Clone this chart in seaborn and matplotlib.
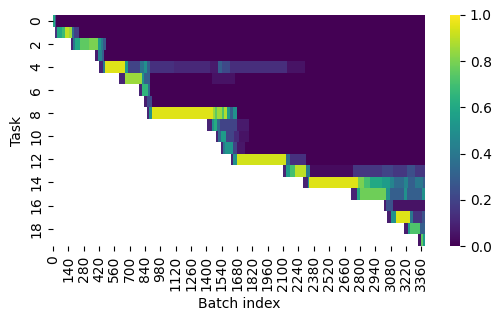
import matplotlib
matplotlib.use("Agg")
import matplotlib.pyplot as plt
import seaborn as sns
import numpy as np
import pandas as pd

n_batches = 3395
tasks = list(range(20))

# first batch at which each task appears (white / NaN before it)
task_start = [0, 18, 164, 383, 420, 602, 785, 830, 854, 1404,
              1487, 1532, 1623, 2098, 2283, 2724, 3018, 3049, 3201, 3334]

# (from batch, to batch, value); everything else after the start is 0
segments = [
    [(0, 20, 0.6), (20, 30, 0.25)],
    [(18, 34, 0.15), (34, 80, 0.6), (80, 110, 0.68), (110, 150, 0.9), (150, 176, 0.85),
     (176, 195, 0.35), (195, 240, 0.18)],
    [(164, 180, 0.1), (180, 200, 0.4), (200, 245, 0.6), (245, 330, 0.75), (330, 410, 0.8),
     (410, 440, 0.55), (440, 460, 0.42), (460, 483, 0.28)],
    [(383, 413, 0.08), (413, 445, 0.45), (445, 470, 0.3)],
    [(420, 456, 0.1), (456, 474, 0.4), (474, 657, 0.95), (657, 685, 0.55), (685, 794, 0.2),
     (794, 830, 0.38), (830, 860, 0.5), (860, 885, 0.3), (885, 1100, 0.14), (1100, 1433, 0.11),
     (1433, 1506, 0.07), (1506, 1540, 0.3), (1540, 1615, 0.22), (1615, 2133, 0.13),
     (2133, 2300, 0.05)],
    [(602, 657, 0.1), (657, 809, 0.85), (809, 830, 0.5), (830, 885, 0.3), (1450, 1660, 0.05)],
    [(785, 809, 0.1), (809, 870, 0.65), (870, 885, 0.35)],
    [(830, 857, 0.08), (857, 900, 0.22)],
    [(854, 880, 0.1), (880, 900, 0.5), (900, 1460, 0.95), (1460, 1480, 0.85), (1480, 1500, 0.75),
     (1500, 1540, 0.85), (1540, 1560, 0.72), (1560, 1590, 0.88), (1590, 1615, 0.55),
     (1615, 1646, 0.3), (1646, 1676, 0.5)],
    [(1404, 1447, 0.1), (1447, 1470, 0.5), (1470, 1500, 0.62), (1500, 1524, 0.35),
     (1524, 1676, 0.2), (1676, 1790, 0.07)],
    [(1487, 1508, 0.1), (1508, 1530, 0.35), (1530, 1583, 0.55), (1583, 1650, 0.2),
     (1650, 1700, 0.12), (1700, 1790, 0.05)],
    [(1532, 1551, 0.1), (1551, 1570, 0.4), (1570, 1643, 0.52), (1643, 1676, 0.2),
     (1676, 1750, 0.06)],
    [(1623, 1645, 0.1), (1645, 1675, 0.5), (1675, 2131, 0.93), (2131, 2160, 0.35),
     (2160, 2310, 0.14)],
    [(2098, 2131, 0.1), (2131, 2160, 0.55), (2160, 2207, 0.7), (2207, 2313, 0.9),
     (2313, 2344, 0.4), (2344, 2740, 0.03), (2740, 3000, 0.16), (3000, 3100, 0.2),
     (3100, 3230, 0.16), (3230, 3300, 0.24), (3300, 3395, 0.16)],
    [(2283, 2328, 0.1), (2328, 2338, 0.5), (2338, 2785, 0.95), (2785, 2840, 0.8),
     (2840, 2890, 0.7), (2890, 3000, 0.6), (3000, 3072, 0.55), (3072, 3110, 0.45),
     (3110, 3200, 0.35), (3200, 3240, 0.45), (3240, 3300, 0.3), (3300, 3380, 0.4),
     (3380, 3395, 0.3)],
    [(2724, 2770, 0.1), (2770, 2800, 0.6), (2800, 3043, 0.78), (3043, 3075, 0.5),
     (3075, 3200, 0.3), (3200, 3230, 0.5), (3230, 3370, 0.3), (3370, 3395, 0.5)],
    [(3018, 3043, 0.08), (3043, 3104, 0.25), (3104, 3395, 0.05)],
    [(3049, 3088, 0.08), (3088, 3128, 0.5), (3128, 3256, 0.95), (3256, 3290, 0.4),
     (3290, 3370, 0.15), (3370, 3395, 0.25)],
    [(3201, 3240, 0.08), (3240, 3260, 0.55), (3260, 3350, 0.72), (3350, 3395, 0.3)],
    [(3334, 3360, 0.05), (3360, 3380, 0.75), (3380, 3395, 0.55)],
]

grid = np.full((len(tasks), n_batches), np.nan)
for t, (start, runs) in enumerate(zip(task_start, segments)):
    grid[t, start:] = 0.0
    for a, b, v in runs:
        grid[t, a:b] = v

df = pd.DataFrame(grid, index=tasks, columns=range(n_batches))

fig = plt.figure(figsize=(5.01, 3.21), dpi=100)
ax = fig.add_axes([53 / 501, 75 / 321, 372 / 501, 231 / 321])
cax = fig.add_axes([449.5 / 501, 75 / 321, 10.5 / 501, 231 / 321])

sns.heatmap(df, ax=ax, cbar_ax=cax, cmap="viridis", vmin=0, vmax=1,
            xticklabels=140, yticklabels=2)
ax.set_xlabel("Batch index")
ax.set_ylabel("Task")
ax.tick_params(axis="x", labelrotation=90)
ax.tick_params(axis="y", labelrotation=90)

fig.savefig("out.png", dpi=100)
